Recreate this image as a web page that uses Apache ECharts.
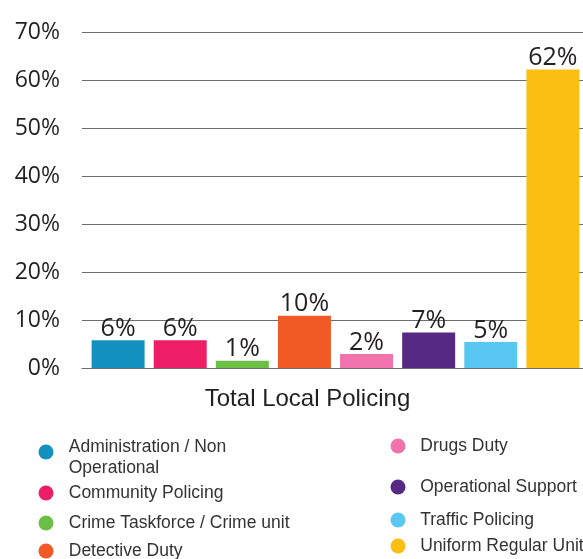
<!DOCTYPE html>
<html>
<head>
<meta charset="utf-8">
<script src="https://cdn.jsdelivr.net/npm/echarts@6/dist/echarts.min.js"></script>
<style>
html,body{margin:0;padding:0;background:#fff;}
#chart{width:583px;height:559px;}
</style>
</head>
<body>
<div id="chart"></div>
<script>
const categories = ['Total Local Policing'];
const seriesNames = [
  'Administration / Non Operational',
  'Community Policing',
  'Crime Taskforce / Crime unit',
  'Detective Duty',
  'Drugs Duty',
  'Operational Support',
  'Traffic Policing',
  'Uniform Regular Unit'
];
const values = [5.8, 5.8, 1.5, 10.9, 2.9, 7.4, 5.4, 62.2];
const valueLabels = ['6%', '6%', '1%', '10%', '2%', '7%', '5%', '62%'];
const colors = ['#1290c0', '#ed1e65', '#6abf44', '#f15a24', '#f074ab', '#562a84', '#58c8f2', '#fbbf14'];
const legendLabels = [
  ['Administration / Non', 'Operational'],
  ['Community Policing'],
  ['Crime Taskforce / Crime unit'],
  ['Detective Duty'],
  ['Drugs Duty'],
  ['Operational Support'],
  ['Traffic Policing'],
  ['Uniform Regular Unit']
];

// legend placement (layout only)
const legendPos = [
  {left: 38.5, cy: 452, w: 35.5},
  {left: 38.5, cy: 493, w: 35.5},
  {left: 38.5, cy: 523, w: 35.5},
  {left: 38.5, cy: 551, w: 35.5},
  {left: 390.5, cy: 446, w: 34.5},
  {left: 390.5, cy: 487, w: 34.5},
  {left: 390.5, cy: 520, w: 34.5},
  {left: 390.5, cy: 546, w: 34.5}
];

const chart = echarts.init(document.getElementById('chart'), null, {renderer: 'canvas'});

const series = seriesNames.map((name, i) => ({
  type: 'bar',
  name: name,
  data: [values[i]],
  barWidth: 53,
  barGap: '17.2%',
  itemStyle: {color: colors[i]},
  label: {
    show: true,
    position: 'top',
    distance: -1,
    formatter: () => valueLabels[i],
    fontFamily: 'Open Sans',
    fontSize: 25,
    color: '#231f20'
  }
}));

const legendFont = {fontFamily: 'Liberation Sans', fontSize: 17.5, color: '#333333'};

const legends = seriesNames.map((name, i) => {
  const p = legendPos[i];
  const lines = legendLabels[i];
  const multi = lines.length > 1;
  return {
    data: [name],
    left: p.left,
    top: multi ? p.cy - 21 : p.cy - 10.5,
    padding: 0,
    icon: 'circle',
    itemWidth: p.w,
    itemHeight: 15,
    formatter: () => multi ? ('{a|' + lines[0] + '}\n{b|' + lines[1] + '}') : lines[0],
    textStyle: Object.assign({}, legendFont, {
      lineHeight: 21,
      rich: {
        a: Object.assign({}, legendFont, {lineHeight: 32}),
        b: Object.assign({}, legendFont, {lineHeight: 10})
      }
    })
  };
});

chart.setOption({
  animation: false,
  backgroundColor: '#ffffff',
  grid: {left: 82, right: -6, top: 32, bottom: 191, containLabel: false, outerBoundsMode: 'none'},
  legend: legends,
  xAxis: {
    type: 'category',
    data: categories,
    axisLine: {show: true, lineStyle: {color: '#6d6e71', width: 1}},
    axisTick: {show: false},
    axisLabel: {
      fontFamily: 'Liberation Sans',
      fontSize: 24,
      color: '#231f20',
      margin: 19,
      padding: [0, 56, 0, 0]
    }
  },
  yAxis: {
    type: 'value',
    min: 0,
    max: 70,
    interval: 10,
    axisLine: {show: false},
    axisTick: {show: false},
    axisLabel: {
      formatter: '{value}%',
      fontFamily: 'Open Sans',
      fontSize: 23,
      color: '#231f20',
      margin: 22
    },
    splitLine: {lineStyle: {color: '#6d6e71', width: 1}}
  },
  series: series
});
</script>
</body>
</html>
